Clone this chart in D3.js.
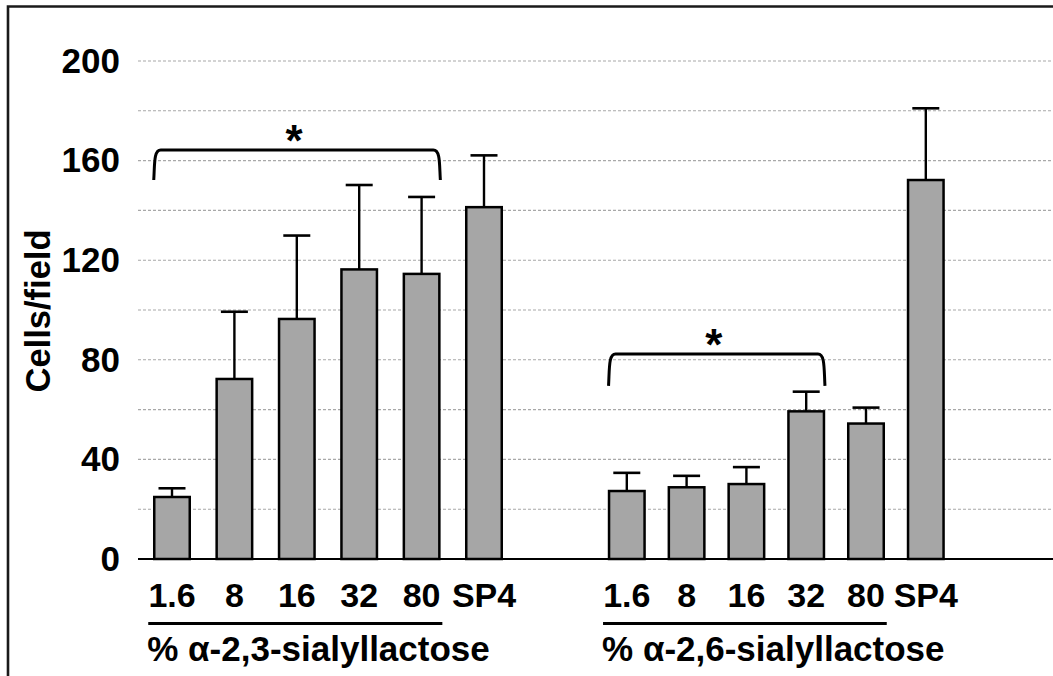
<!DOCTYPE html>
<html>
<head>
<meta charset="utf-8">
<script src="https://cdn.jsdelivr.net/npm/d3@7"></script>
<style>
  html, body { margin: 0; padding: 0; background: #fff; }
  svg { display: block; font-family: "Liberation Sans", Arial, sans-serif; font-weight: bold; }
</style>
</head>
<body>
<svg id="chart" width="1053" height="676"></svg>
<script>
// ---- data ----
const categories = ["1.6", "8", "16", "32", "80", "SP4"];
const groupLabels = ["% α-2,3-sialyllactose", "% α-2,6-sialyllactose"];
const means23 = [24.9, 72.3, 96.4, 116.3, 114.5, 141.3];
const upper23 = [28.4, 99.3, 129.9, 150.2, 145.4, 162.1];
const means26 = [27.3, 28.8, 30.1, 59.3, 54.4, 152.2];
const upper26 = [34.6, 33.4, 36.9, 67.2, 60.8, 181.0];
const yTicks = [0, 40, 80, 120, 160, 200];
const gridTicks = [0, 20, 40, 60, 80, 100, 120, 140, 160, 180, 200];
const yTitle = "Cells/field";
// significance brackets: from/to category, level of the bar, level of the leg ends
const bracketGroup = [0, 1];
const bracketFrom = ["1.6", "1.6"];
const bracketTo = ["80", "32"];
const bracketLevel = [164.3, 82.3];
const bracketLegEnd = [152.2, 69.5];
const bracketMark = "*";
// ---- layout ----
const W = 1053, H = 676;
const svg = d3.select("#chart");
const y = d3.scaleLinear().domain([0, 200]).range([559, 61]);
const plotLeft = 138, plotRight = W;

const xs = [
  d3.scaleBand().domain(categories).range([140.8, 515.2]).paddingInner(0.431).paddingOuter(0.2155),
  d3.scaleBand().domain(categories).range([596.9, 955.7]).paddingInner(0.406).paddingOuter(0.203)
];
const groups = [
  { x: xs[0], means: means23, upper: upper23, label: groupLabels[0] },
  { x: xs[1], means: means26, upper: upper26, label: groupLabels[1] }
];

// frame
svg.append("path")
  .attr("d", `M8,${H} L8,6.5 L${W},6.5`)
  .attr("fill", "none").attr("stroke", "#1a1a1a").attr("stroke-width", 2.6);

// gridlines
svg.append("g").selectAll("line").data(gridTicks).join("line")
  .attr("x1", plotLeft).attr("x2", plotRight)
  .attr("y1", d => y(d)).attr("y2", d => y(d))
  .attr("stroke", "#a8a8a8").attr("stroke-width", 1.1)
  .attr("stroke-dasharray", "3,2");

// y axis labels
const yAxis = svg.append("g").attr("transform", `translate(${plotLeft},0)`)
  .call(d3.axisLeft(y).tickValues(yTicks).tickSize(0).tickPadding(18).tickFormat(d3.format("d")));
yAxis.select(".domain").remove();
yAxis.selectAll("text").attr("font-size", 35).attr("font-family", "Liberation Sans, Arial, sans-serif")
  .attr("font-weight", "bold").attr("fill", "#000");

// y title
svg.append("text")
  .attr("transform", `translate(38,311) rotate(-90)`)
  .attr("text-anchor", "middle").attr("dominant-baseline", "central")
  .attr("font-size", 34.5).attr("fill", "#000").text(yTitle);

// baseline
svg.append("line").attr("x1", plotLeft).attr("x2", plotRight)
  .attr("y1", y(0)).attr("y2", y(0)).attr("stroke", "#000").attr("stroke-width", 2.2);

groups.forEach((g, gi) => {
  const data = categories.map((c, i) => ({ c, m: g.means[i], u: g.upper[i] }));
  const gg = svg.append("g");
  // error bars
  gg.selectAll(".err").data(data).join("line")
    .attr("x1", d => g.x(d.c) + g.x.bandwidth() / 2).attr("x2", d => g.x(d.c) + g.x.bandwidth() / 2)
    .attr("y1", d => y(d.m)).attr("y2", d => y(d.u))
    .attr("stroke", "#000").attr("stroke-width", 2.4);
  gg.selectAll(".cap").data(data).join("line")
    .attr("x1", d => g.x(d.c) + g.x.bandwidth() / 2 - 13.5).attr("x2", d => g.x(d.c) + g.x.bandwidth() / 2 + 13.5)
    .attr("y1", d => y(d.u)).attr("y2", d => y(d.u))
    .attr("stroke", "#000").attr("stroke-width", 2.6);
  // bars
  gg.selectAll("rect").data(data).join("rect")
    .attr("x", d => g.x(d.c)).attr("width", g.x.bandwidth())
    .attr("y", d => y(d.m)).attr("height", d => y(0) - y(d.m))
    .attr("fill", "#a6a6a6").attr("stroke", "#000").attr("stroke-width", 2.5);
  // category labels
  const ax = svg.append("g").attr("transform", `translate(0,${y(0)})`)
    .call(d3.axisBottom(g.x).tickSize(0).tickPadding(24));
  ax.select(".domain").remove();
  ax.selectAll("text").attr("font-size", 34).attr("font-family", "Liberation Sans, Arial, sans-serif")
    .attr("font-weight", "bold").attr("fill", "#000");
  // group underline + label
  const ul0 = g.x(categories[0]) - 6;
  const ul1 = g.x(categories[4]) + g.x.bandwidth() + 3;
  svg.append("line").attr("x1", ul0).attr("x2", ul1).attr("y1", 623.5).attr("y2", 623.5)
    .attr("stroke", "#000").attr("stroke-width", 2.8);
  svg.append("text").attr("x", ul0 - 1).attr("y", 661).attr("font-size", 35).attr("fill", "#000")
    .text(g.label);
});

// brackets
bracketGroup.forEach((gi, k) => {
  const sx = xs[gi];
  const x1 = sx(bracketFrom[k]) - 0.5;
  const x2 = sx(bracketTo[k]) + sx.bandwidth() + 1;
  const yt = y(bracketLevel[k]), yb = y(bracketLegEnd[k]);
  const r = 7;
  svg.append("path")
    .attr("d", `M${x1},${yb} C${x1 + 1},${yt + r * 2} ${x1},${yt} ${x1 + r},${yt} L${x2 - r},${yt} C${x2},${yt} ${x2 - 1},${yt + r * 2} ${x2},${yb}`)
    .attr("fill", "none").attr("stroke", "#000").attr("stroke-width", 3);
  svg.append("text").attr("x", (x1 + x2) / 2 - 3).attr("y", yt + 6)
    .attr("text-anchor", "middle").attr("font-size", 44).attr("fill", "#000").text(bracketMark);
});
</script>
</body>
</html>
